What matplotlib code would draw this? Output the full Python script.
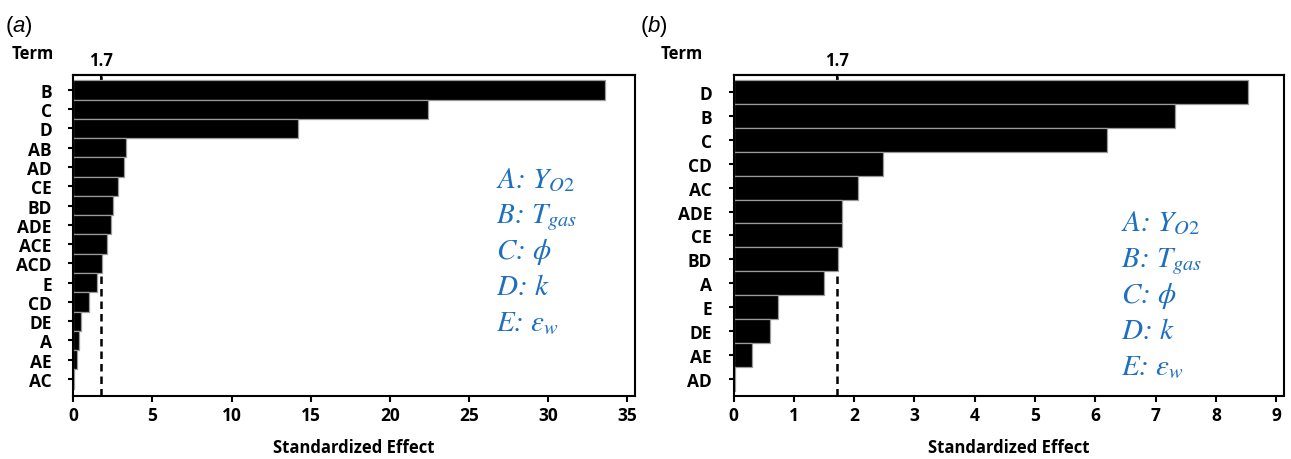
import matplotlib
matplotlib.use("Agg")
import matplotlib.pyplot as plt

# ---- data ----
terms_a = ["B", "C", "D", "AB", "AD", "CE", "BD", "ADE", "ACE", "ACD",
           "E", "CD", "DE", "A", "AE", "AC"]
effect_a = [33.6, 22.4, 14.2, 3.3, 3.2, 2.85, 2.5, 2.35, 2.1, 1.82,
            1.5, 1.0, 0.5, 0.35, 0.25, 0.05]

terms_b = ["D", "B", "C", "CD", "AC", "ADE", "CE", "BD", "A", "E",
           "DE", "AE", "AD"]
effect_b = [8.53, 7.32, 6.2, 2.48, 2.07, 1.8, 1.8, 1.74, 1.5, 0.73,
            0.61, 0.3, 0.03]

crit = 1.72          # significance limit, labelled "1.7"
crit_label = "1.7"

xticks_a = [0, 5, 10, 15, 20, 25, 30, 35]
xticks_b = [0, 1, 2, 3, 4, 5, 6, 7, 8, 9]

legend_lines = [r"$A$: $Y_{\mathit{O2}}$",
                r"$B$: $T_{gas}$",
                r"$C$: $\phi$",
                r"$D$: $k$",
                r"$E$: $\varepsilon_w$"]

plt.rcParams["mathtext.fontset"] = "custom"
plt.rcParams["mathtext.rm"] = "Liberation Sans"
plt.rcParams["mathtext.it"] = "Liberation Sans:italic"

lab_font = dict(family="Open Sans", weight="bold")
blue = "#1f6fc0"

fig = plt.figure(figsize=(12.91, 4.60), dpi=100)
ax_a = fig.add_axes([0.0568, 0.137, 0.4351, 0.698])
ax_b = fig.add_axes([0.5682, 0.137, 0.4264, 0.698])


def pareto(ax, terms, vals, xmax, xticks, top_pad, bot_pad):
    n = len(terms)
    ypos = list(range(n))
    ax.axvline(crit, color="black", ls=(0, (3, 2)), lw=1.8, zorder=1)
    ax.barh(ypos, vals, height=1.0, color="black", edgecolor="#9a9a9a",
            linewidth=0.9, zorder=2)
    ax.set_ylim(n - 1 + bot_pad, -top_pad)
    ax.set_xlim(0, xmax)
    ax.set_yticks(ypos)
    ax.set_yticklabels(terms, fontsize=12.5, **lab_font)
    ax.set_xticks(xticks)
    ax.set_xticklabels([str(t) for t in xticks], fontsize=12.5, **lab_font)
    ax.tick_params(axis="y", length=3.5, width=1.5, pad=12)
    ax.tick_params(axis="x", length=4, width=1.5, pad=3)
    for s in ax.spines.values():
        s.set_linewidth(1.5)
    ax.set_xlabel("Standardized Effect", fontsize=12, labelpad=10, **lab_font)

    top = ax.secondary_xaxis("top")
    top.set_xticks([crit])
    top.set_xticklabels([crit_label], fontsize=12, **lab_font)
    top.tick_params(direction="in", length=7, width=1.5, pad=4)
    top.spines["top"].set_linewidth(1.5)
    return ax


pareto(ax_a, terms_a, effect_a, 35.5, xticks_a, 0.78, 0.88)
pareto(ax_b, terms_b, effect_b, 9.13, xticks_b, 0.71, 0.71)

# "Term" headers
fig.text(0.009, 0.872, "Term", fontsize=12, **lab_font)
fig.text(0.512, 0.872, "Term", fontsize=12, **lab_font)

# panel letters
fig.text(0.004, 0.93, r"($\mathit{a}$)", fontsize=16, family="Liberation Sans",
         math_fontfamily="custom")
fig.text(0.496, 0.93, r"($\mathit{b}$)", fontsize=16, family="Liberation Sans",
         math_fontfamily="custom")

# factor legend in blue
for i, s in enumerate(legend_lines):
    fig.text(0.384, 0.592 - i * 0.078, s, fontsize=21, color=blue,
             family="STIXGeneral", style="italic", math_fontfamily="stix")
    fig.text(0.868, 0.497 - i * 0.078, s, fontsize=21, color=blue,
             family="STIXGeneral", style="italic", math_fontfamily="stix")

fig.savefig("out.png", dpi=100)
